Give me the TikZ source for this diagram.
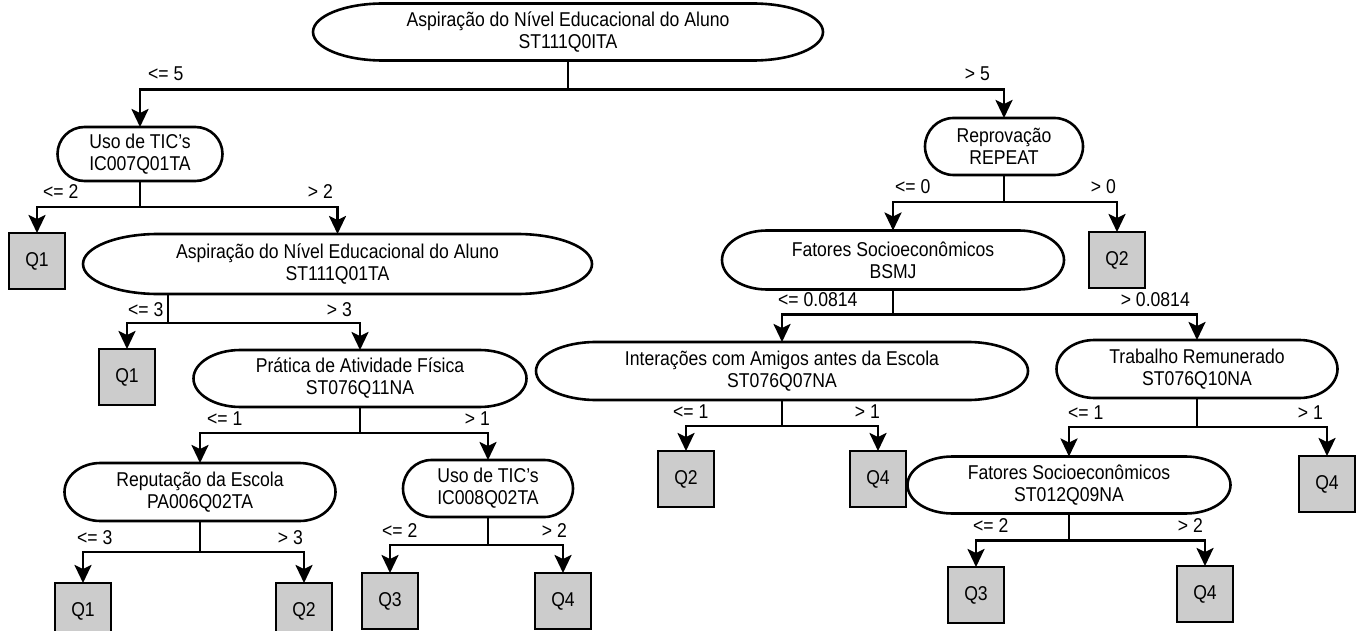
\documentclass[tikz,border=0pt]{standalone}
\usepackage{fontspec}
\setmainfont{Liberation Sans}[FakeStretch=0.88]
\usetikzlibrary{arrows.meta}

% outline with elliptical ends: node name, end x-radius, half height
\newcommand\capsule[3]{%
  \draw[outl] ([xshift=#2]#1.north west) -- ([xshift=-#2]#1.north east)
    arc[start angle=90,end angle=-90,x radius=#2,y radius=#3]
    -- ([xshift=#2]#1.south west)
    arc[start angle=270,end angle=90,x radius=#2,y radius=#3] -- cycle;}

\begin{document}
\begin{tikzpicture}[x=1pt,y=-1pt,
  txt/.style={font=\fontsize{20}{22}\selectfont, align=center, inner sep=0pt, outer sep=0pt},
  dec/.style={txt, minimum width=#1},
  outl/.style={line width=2.6pt},
  leaf/.style={txt, draw, line width=2.8pt, fill=gray!40, minimum width=56pt, minimum height=56pt},
  arr/.style={line width=2.7pt, -{Stealth[length=18pt,width=17pt,inset=4pt]}},
  lab/.style={font=\fontsize{20}{22}\selectfont, inner sep=0pt}
]
\useasboundingbox (0,0) rectangle (1365,631);
\clip (0,0) rectangle (1365,631);

% decision nodes
\node[dec=510pt, minimum height=57pt] (r0) at (568,32) {Aspiração do Nível Educacional do Aluno\\ST111Q0ITA};
\node[dec=165pt, minimum height=54pt] (n1) at (140,154) {Uso de TIC's\\IC007Q01TA};
\node[dec=509pt, minimum height=60pt] (n2) at (337.5,264) {Aspiração do Nível Educacional do Aluno\\ST111Q01TA};
\node[dec=333pt, minimum height=57pt] (n3) at (360,378.5) {Prática de Atividade Física\\ST076Q11NA};
\node[dec=271pt, minimum height=58pt] (n4) at (200,492) {Reputação da Escola\\PA006Q02TA};
\node[dec=170pt, minimum height=57pt] (n5) at (488,488.5) {Uso de TIC's\\IC008Q02TA};
\node[dec=158pt, minimum height=57pt] (rp) at (1004,146.5) {Reprovação\\REPEAT};
\node[dec=342pt, minimum height=59pt] (bs) at (893,260) {Fatores Socioeconômicos\\BSMJ};
\node[dec=492pt, minimum height=58pt] (in) at (782,371) {Interações com Amigos antes da Escola\\ST076Q07NA};
\node[dec=281pt, minimum height=58pt] (tr) at (1197,369) {Trabalho Remunerado\\ST076Q10NA};
\node[dec=323pt, minimum height=57pt] (st) at (1069,485) {Fatores Socioeconômicos\\ST012Q09NA};

\capsule{r0}{70pt}{28.5pt}
\capsule{n1}{27pt}{27pt}
\capsule{n2}{75pt}{30pt}
\capsule{n3}{47pt}{28.5pt}
\capsule{n4}{36pt}{29pt}
\capsule{n5}{28.5pt}{28.5pt}
\capsule{rp}{28.5pt}{28.5pt}
\capsule{bs}{45pt}{29.5pt}
\capsule{in}{60pt}{29pt}
\capsule{tr}{38pt}{29pt}
\capsule{st}{45pt}{28.5pt}

% the branch under n2 leaves from the left part of its outline
\coordinate (n2out) at ([xshift=-169.5pt]n2.south);

% leaves
\node[leaf] (q1a) at (37,261) {Q1};
\node[leaf] (q1b) at (127,377) {Q1};
\node[leaf] (q1c) at (83,611) {Q1};
\node[leaf] (q2c) at (304,611) {Q2};
\node[leaf] (q3a) at (390,601) {Q3};
\node[leaf] (q4a) at (563,601) {Q4};
\node[leaf] (q2r) at (1117,260) {Q2};
\node[leaf] (q2m) at (686,479) {Q2};
\node[leaf] (q4m) at (878,479) {Q4};
\node[leaf] (q4r) at (1327,484) {Q4};
\node[leaf] (q3r) at (976,595) {Q3};
\node[leaf] (q4s) at (1205,594) {Q4};

% branches
\draw[arr] (r0.south) -- ++(0,29) -| (n1.north);
\draw[arr] (r0.south) -- ++(0,29) -| (rp.north);
\draw[arr] (n1.south) -- ++(0,26) -| (q1a.north);
\draw[arr] (n1.south) -- ++(0,26) -| (n2.north);
\draw[arr] (n2out) -- ++(0,29) -| (q1b.north);
\draw[arr] (n2out) -- ++(0,29) -| (n3.north);
\draw[arr] (n3.south) -- ++(0,26) -| (n4.north);
\draw[arr] (n3.south) -- ++(0,26) -| (n5.north);
\draw[arr] (n4.south) -- ++(0,31) -| (q1c.north);
\draw[arr] (n4.south) -- ++(0,31) -| (q2c.north);
\draw[arr] (n5.south) -- ++(0,28) -| (q3a.north);
\draw[arr] (n5.south) -- ++(0,28) -| (q4a.north);
\draw[arr] (rp.south) -- ++(0,27) -| (bs.north);
\draw[arr] (rp.south) -- ++(0,27) -| (q2r.north);
\draw[arr] (bs.south) -- ++(0,25) -| (in.north);
\draw[arr] (bs.south) -- ++(0,25) -| (tr.north);
\draw[arr] (in.south) -- ++(0,26) -| (q2m.north);
\draw[arr] (in.south) -- ++(0,26) -| (q4m.north);
\draw[arr] (tr.south) -- ++(0,29) -| (st.north);
\draw[arr] (tr.south) -- ++(0,29) -| (q4r.north);
\draw[arr] (st.south) -- ++(0,27) -| (q3r.north);
\draw[arr] (st.south) -- ++(0,27) -| (q4s.north);

% branch labels
\node[lab, anchor=base west] (l1) at (148,81) {<= 5};
\node[lab, anchor=base east] (l2) at (990,81) {> 5};
\node[lab, anchor=base west] (l3) at (43,199) {<= 2};
\node[lab, anchor=base east] (l4) at (333,199) {> 2};
\node[lab, anchor=base west] (l5) at (128,316) {<= 3};
\node[lab, anchor=base east] (l6) at (352,316) {> 3};
\node[lab, anchor=base west] (l7) at (207,425) {<= 1};
\node[lab, anchor=base east] (l8) at (490,425) {> 1};
\node[lab, anchor=base west] (l9) at (77,544) {<= 3};
\node[lab, anchor=base east] (l10) at (303,544) {> 3};
\node[lab, anchor=base west] (l11) at (382,537) {<= 2};
\node[lab, anchor=base east] (l12) at (567,537) {> 2};
\node[lab, anchor=base west] (l13) at (895,194) {<= 0};
\node[lab, anchor=base east] (l14) at (1116,194) {> 0};
\node[lab, anchor=base west] (l15) at (778,306) {<= 0.0814};
\node[lab, anchor=base east] (l16) at (1190,306) {> 0.0814};
\node[lab, anchor=base west] (l17) at (673,418) {<= 1};
\node[lab, anchor=base east] (l18) at (880,418) {> 1};
\node[lab, anchor=base west] (l19) at (1068,419) {<= 1};
\node[lab, anchor=base east] (l20) at (1323,419) {> 1};
\node[lab, anchor=base west] (l21) at (973,532) {<= 2};
\node[lab, anchor=base east] (l22) at (1203,532) {> 2};
\end{tikzpicture}
\end{document}
